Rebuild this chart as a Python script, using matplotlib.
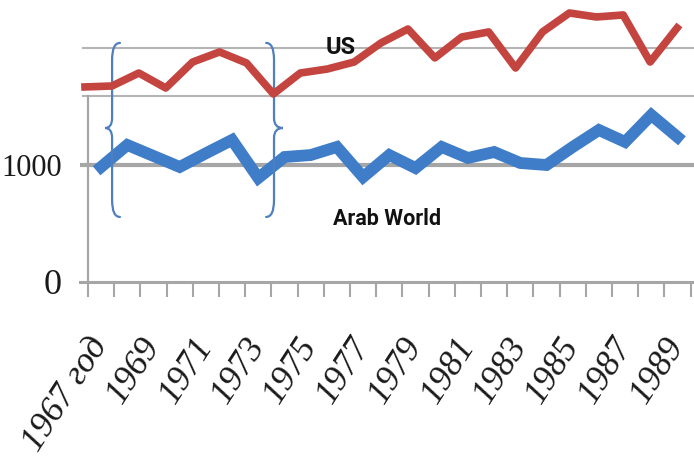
import numpy as np
import matplotlib
matplotlib.use("Agg")
import matplotlib.pyplot as plt
from matplotlib.path import Path
from matplotlib.patches import PathPatch

# ---------------- data ----------------
years = list(range(1967, 1990))
tick_labels = ["1967 год" if y == 1967 else str(y) for y in years]
arab_world = [983, 1171, 1077, 983, 1100, 1214, 889, 1068, 1085, 1154, 897, 1085,
              974, 1154, 1060, 1111, 1017, 1000, 1154, 1299, 1197, 1427, 1239]
us = [1667, 1675, 1786, 1658, 1880, 1966, 1872, 1607, 1786, 1820, 1880, 2043,
      2162, 1915, 2094, 2137, 1829, 2137, 2299, 2265, 2282, 1880, 2171]
y_ticks = [0, 1000]
grid_levels = [1590, 2000]

# ---------------- styles ----------------
RED = "#c4443f"
BLUE = "#3f7dc9"
BRACE = "#4f7fbf"
GRID = "#b4b4b4"
AXIS = "#a6a6a6"
LABEL_FONT = ["Roboto", "DejaVu Sans"]

W, H = 694, 472
fig = plt.figure(figsize=(W / 100, H / 100), dpi=100)
ax_left, ax_right, ax_bottom, ax_top = 80, 694, 282, 0
pos = [ax_left / W, (H - ax_bottom) / H, (ax_right - ax_left) / W, (ax_bottom - ax_top) / H]
ax = fig.add_axes(pos)
n = len(years)
x = np.arange(n)
ax.set_xlim(-0.805, 22.63)
ax.set_ylim(0, 2410)
for s in ax.spines.values():
    s.set_visible(False)

# grid lines
ax.axhline(1000, xmin=0, xmax=1, color=AXIS, lw=3.0, zorder=1)
for g in grid_levels:
    ax.axhline(g, xmin=0.005, xmax=1, color=GRID, lw=1.5, zorder=1)
# bottom axis and vertical axis line
ax.axhline(0, color=AXIS, lw=2.2, zorder=2, clip_on=False)
ax.plot([-0.5, -0.5], [0, grid_levels[0]], color=AXIS, lw=1.6, zorder=2)

# ticks at category boundaries
ax.set_xticks(np.arange(-0.5, n, 1.0))
ax.set_xticklabels([])
ax.tick_params(axis="x", which="major", direction="out", length=10.5, width=1.5,
               color=AXIS)
ax.set_xticks(x[::2], [tick_labels[i] for i in range(0, n, 2)], minor=True)
ax.tick_params(axis="x", which="minor", length=0, pad=42)
for lab in ax.get_xticklabels(minor=True):
    lab.set_rotation(57)
    lab.set_ha("right")
    lab.set_va("center")
    lab.set_rotation_mode("anchor")
    lab.set_fontfamily("Liberation Serif")
    lab.set_fontstyle("italic")
    lab.set_fontsize(25.5)
    lab.set_color("#1a1a1a")

ax.set_yticks(y_ticks, [str(v) for v in y_ticks])
ax.tick_params(axis="y", length=0, pad=13)
for lab, size in zip(ax.get_yticklabels(), [26, 22]):
    lab.set_fontfamily("Liberation Serif")
    lab.set_fontsize(size)
    lab.set_color("#1a1a1a")

# Arab World series
ax.plot(x, arab_world, color=BLUE, lw=8.5, solid_joinstyle="miter", zorder=3)

# US series (pasted from another chart with its own x scale)
ax2 = fig.add_axes(pos, sharey=ax)
ax2.set_xlim(-0.186, 22.63)
ax2.patch.set_visible(False)
ax2.axis("off")
ax2.plot(x, us, color=RED, lw=5.5, solid_joinstyle="round", zorder=3)


def brace(axis, x_stem, x_end, x_tip, y_top, y_bot, y_mid, hv=145, tv=85):
    verts = [(x_end, y_top), (x_stem, y_top), (x_stem, y_top - hv),
             (x_stem, y_mid + tv), (x_stem, y_mid), (x_tip, y_mid),
             (x_stem, y_mid), (x_stem, y_mid - tv),
             (x_stem, y_bot + hv), (x_stem, y_bot), (x_end, y_bot)]
    codes = [Path.MOVETO, Path.CURVE3, Path.CURVE3, Path.LINETO, Path.CURVE3,
             Path.CURVE3, Path.CURVE3, Path.CURVE3, Path.LINETO, Path.CURVE3,
             Path.CURVE3]
    axis.add_patch(PathPatch(Path(verts, codes), fill=False, edgecolor=BRACE,
                             lw=1.6, zorder=4, capstyle="round"))


brace(ax, 0.42, 0.72, 0.15, 2043, 556, 1316)
brace(ax, 6.6, 6.3, 6.94, 2043, 556, 1316)

ax.text(9.16, 2008, "US", ha="center", va="center", fontsize=17, fontweight="bold",
        family=LABEL_FONT, color="#111111", zorder=5)
ax.text(10.91, 538, "Arab World", ha="center", va="center", fontsize=15.5,
        fontweight="bold", family=LABEL_FONT, color="#111111", zorder=5)

fig.savefig("out.png", dpi=100)
